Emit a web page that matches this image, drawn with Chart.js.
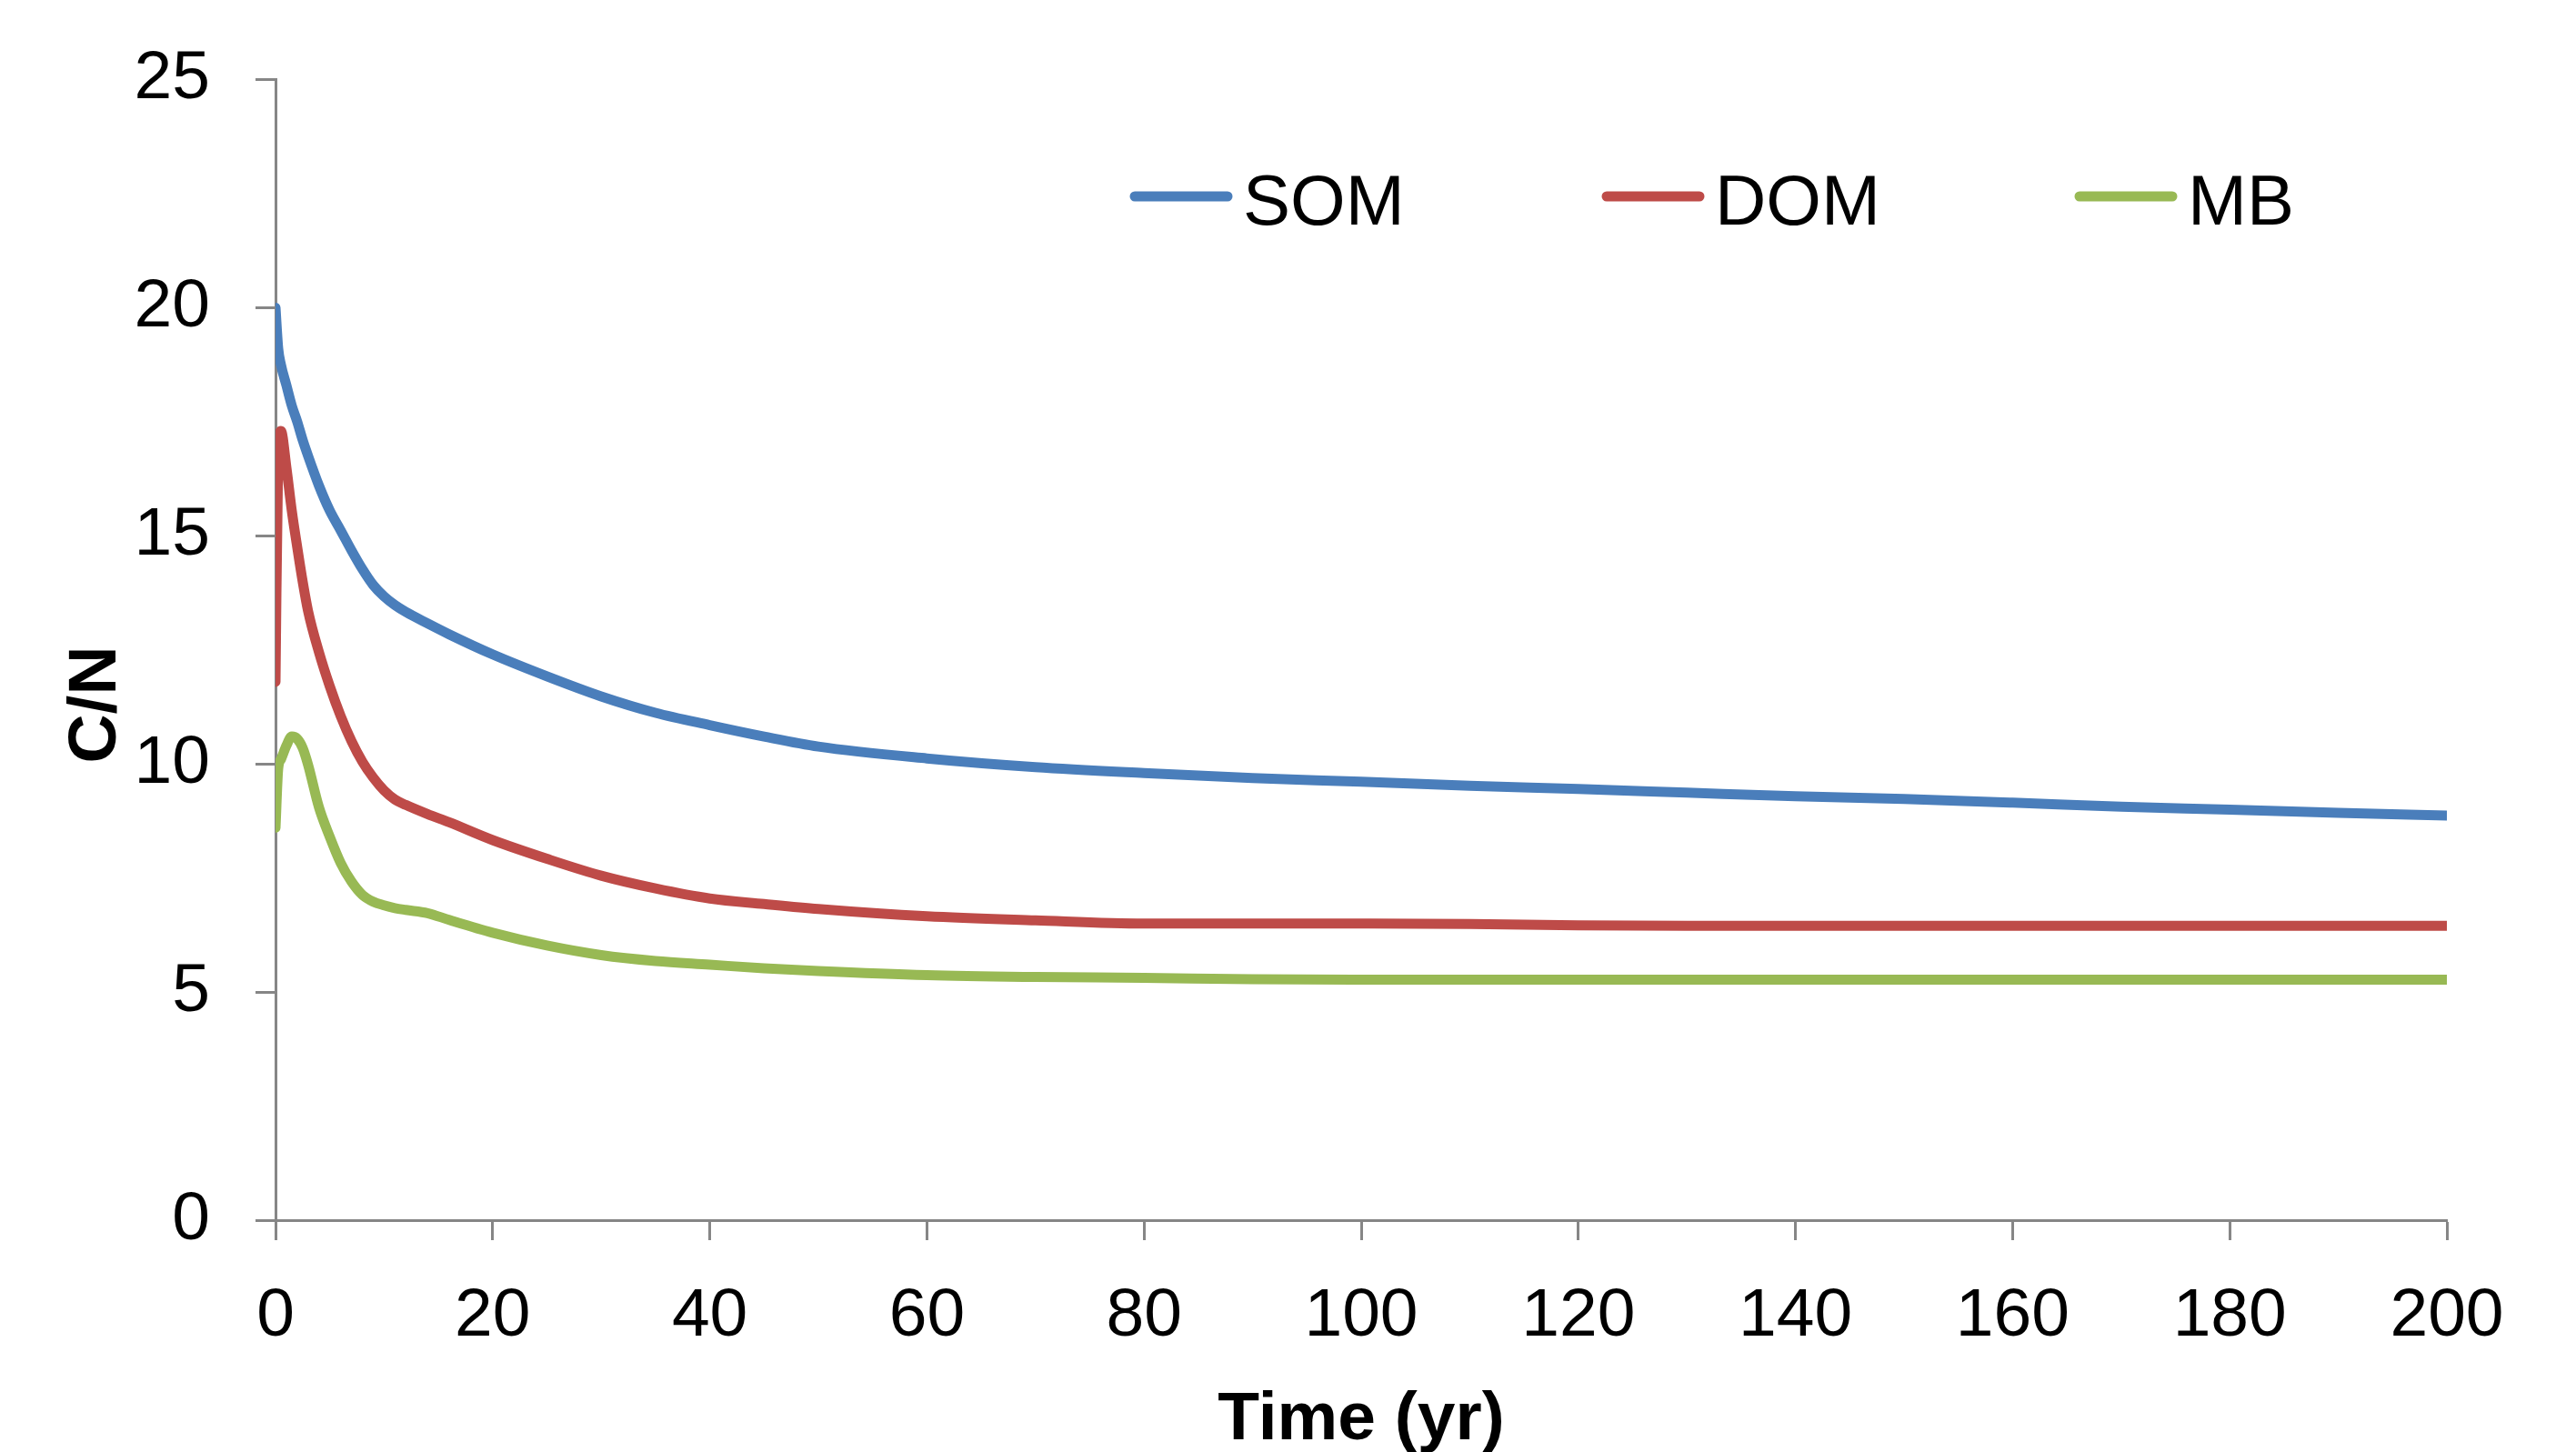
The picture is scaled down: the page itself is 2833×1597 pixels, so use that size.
<!DOCTYPE html>
<html>
<head>
<meta charset="utf-8">
<script src="https://cdn.jsdelivr.net/npm/chart.js@4.4.0/dist/chart.umd.min.js"></script>
<style>
html,body{margin:0;padding:0;background:#ffffff;}
#wrap{width:2833px;height:1597px;position:relative;}
</style>
</head>
<body>
<div id="wrap"><canvas id="c" width="2833" height="1597"></canvas></div>
<script>
// ---- data ----
const time = [0, 0.25, 0.5, 1, 1.5, 2, 2.5, 3, 4, 5, 6, 7, 8, 9, 10, 11, 12, 14, 16, 20, 25, 30, 35, 40, 45, 50, 60, 70, 80, 90, 100, 110, 120, 130, 140, 150, 160, 170, 180, 190, 200];
const som = [20.0, 19.1, 18.75, 18.3, 17.85, 17.5, 17.1, 16.75, 16.1, 15.55, 15.12, 14.68, 14.27, 13.92, 13.67, 13.48, 13.33, 13.08, 12.84, 12.4, 11.92, 11.48, 11.12, 10.85, 10.6, 10.38, 10.12, 9.93, 9.8, 9.69, 9.61, 9.52, 9.45, 9.37, 9.29, 9.23, 9.15, 9.06, 9.0, 8.93, 8.87];
const dom = [11.8, 16.8, 17.3, 16.5, 15.55, 14.75, 14.0, 13.35, 12.45, 11.7, 11.05, 10.5, 10.05, 9.7, 9.42, 9.22, 9.1, 8.9, 8.72, 8.33, 7.92, 7.55, 7.27, 7.05, 6.93, 6.82, 6.66, 6.57, 6.5, 6.5, 6.5, 6.49, 6.46, 6.45, 6.45, 6.45, 6.45, 6.45, 6.45, 6.45, 6.45];
const mb = [8.6, 9.9, 10.1, 10.4, 10.6, 10.55, 10.35, 9.98, 9.05, 8.4, 7.83, 7.42, 7.13, 6.98, 6.9, 6.84, 6.8, 6.73, 6.58, 6.3, 6.02, 5.81, 5.68, 5.6, 5.52, 5.46, 5.37, 5.33, 5.31, 5.28, 5.27, 5.27, 5.27, 5.27, 5.27, 5.27, 5.27, 5.27, 5.27, 5.27, 5.27];
const seriesNames = ['SOM', 'DOM', 'MB'];
const xTickValues = [0, 20, 40, 60, 80, 100, 120, 140, 160, 180, 200];
const yTickValues = [0, 5, 10, 15, 20, 25];
const xTitle = 'Time (yr)';
const yTitle = 'C/N';

// ---- styles ----
const colors = ['#4A7EBB', '#BE4B48', '#98B954'];
const FONT = '"Liberation Sans", Arial, Helvetica, sans-serif';
const axisColor = '#868686';

function pts(vals) { return time.map((t, i) => ({ x: t, y: vals[i] })); }

const legendPlugin = {
  id: 'customLegend',
  afterDraw(chart) {
    const ctx = chart.ctx;
    const starts = [1243, 1762, 2282];
    const lineLen = 112;
    const yLine = 216;
    const yText = 225;
    ctx.save();
    chart.data.datasets.forEach((ds, i) => {
      const x0 = starts[i];
      ctx.strokeStyle = ds.borderColor;
      ctx.lineWidth = 11;
      ctx.lineCap = 'round';
      ctx.beginPath();
      ctx.moveTo(x0 + 5, yLine);
      ctx.lineTo(x0 + lineLen - 5, yLine);
      ctx.stroke();
      ctx.fillStyle = '#000';
      ctx.font = '78px ' + FONT;
      ctx.textAlign = 'left';
      ctx.textBaseline = 'middle';
      ctx.fillText(ds.label, x0 + lineLen + 12, yText);
    });
    ctx.restore();
  }
};

const yTitlePlugin = {
  id: 'yTitle',
  afterDraw(chart) {
    const ctx = chart.ctx;
    ctx.save();
    ctx.translate(106, 775);
    ctx.rotate(-Math.PI / 2);
    ctx.fillStyle = '#000';
    ctx.font = 'bold 75px ' + FONT;
    ctx.textAlign = 'center';
    ctx.textBaseline = 'middle';
    ctx.fillText(yTitle, 0, 0);
    ctx.restore();
  }
};

const bgPlugin = {
  id: 'bg',
  beforeDraw(chart) {
    const ctx = chart.ctx;
    ctx.save();
    ctx.fillStyle = '#ffffff';
    ctx.fillRect(0, 0, chart.width, chart.height);
    ctx.restore();
  }
};

new Chart(document.getElementById('c'), {
  type: 'line',
  data: {
    datasets: [som, dom, mb].map((vals, i) => ({
      label: seriesNames[i],
      data: pts(vals),
      borderColor: colors[i],
      backgroundColor: colors[i],
      borderWidth: 11,
      pointRadius: 0,
      fill: false,
      cubicInterpolationMode: 'monotone',
      borderCapStyle: 'round',
      borderJoinStyle: 'round'
    }))
  },
  options: {
    responsive: false,
    animation: false,
    devicePixelRatio: 1,
    layout: { padding: { top: 78, right: 142, left: 0, bottom: 0 } },
    plugins: {
      legend: { display: false },
      tooltip: { enabled: false },
      title: { display: false }
    },
    scales: {
      x: {
        type: 'linear',
        min: 0,
        max: 200,
        afterBuildTicks: (s) => { s.ticks = xTickValues.map(v => ({ value: v })); },
        afterFit: (s) => { s.height = 255; },
        grid: {
          drawOnChartArea: false,
          drawTicks: true,
          tickLength: 22,
          tickWidth: 3,
          tickColor: axisColor
        },
        border: { display: true, color: axisColor, width: 3 },
        ticks: {
          color: '#000',
          font: { family: FONT, size: 75, lineHeight: 1 },
          padding: 47,
          maxRotation: 0,
          autoSkip: false
        },
        title: {
          display: true,
          text: xTitle,
          color: '#000',
          font: { family: FONT, size: 75, weight: 'bold', lineHeight: 1 },
          padding: { top: 0, bottom: -3 }
        }
      },
      y: {
        type: 'linear',
        min: 0,
        max: 25,
        afterBuildTicks: (s) => { s.ticks = yTickValues.map(v => ({ value: v })); },
        afterFit: (s) => { s.width = 303; },
        grid: {
          drawOnChartArea: false,
          drawTicks: true,
          tickLength: 22,
          tickWidth: 3,
          tickColor: axisColor
        },
        border: { display: true, color: axisColor, width: 3 },
        ticks: {
          color: '#000',
          font: { family: FONT, size: 75, lineHeight: 1 },
          padding: 50,
          autoSkip: false
        },
        title: { display: false }
      }
    }
  },
  plugins: [bgPlugin, legendPlugin, yTitlePlugin]
});
</script>
</body>
</html>
